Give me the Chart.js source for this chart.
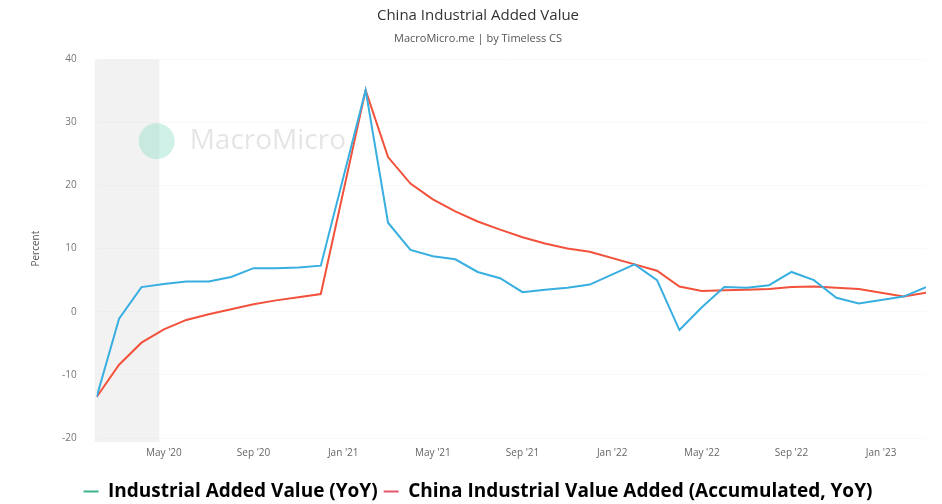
<!DOCTYPE html>
<html>
<head>
<meta charset="utf-8">
<script src="https://cdn.jsdelivr.net/npm/chart.js@4"></script>
<style>
  html, body { margin: 0; padding: 0; background: #fff; }
  #wrap { width: 942px; height: 504px; }
</style>
</head>
<body>
<div id="wrap"><canvas id="iavChart" width="942" height="504"></canvas></div>
<script>
// month index: 0 = Jan 2020 (Jan is reported together with Feb, so it is skipped)
const monthIndex = [1, 2, 3, 4, 5, 6, 7, 8, 9, 10, 11,
  13, 14, 15, 16, 17, 18, 19, 20, 21, 22, 23,
  25, 26, 27, 28, 29, 30, 31, 32, 33, 34, 35,
  37, 38];
const yoyValues = [-13.5, -1.1, 3.9, 4.4, 4.8, 4.8, 5.5, 6.9, 6.9, 7.0, 7.3,
  35.1, 14.1, 9.8, 8.8, 8.3, 6.3, 5.3, 3.1, 3.5, 3.8, 4.3,
  7.5, 5.0, -2.9, 0.7, 3.9, 3.8, 4.2, 6.3, 5.0, 2.2, 1.3,
  2.4, 3.9];
const accumValues = [-13.5, -8.4, -4.9, -2.8, -1.3, -0.4, 0.4, 1.2, 1.8, 2.3, 2.8,
  35.1, 24.5, 20.3, 17.8, 15.9, 14.3, 13.0, 11.8, 10.8, 10.0, 9.5,
  7.5, 6.5, 4.0, 3.3, 3.4, 3.5, 3.6, 3.9, 4.0, 3.8, 3.6,
  2.4, 3.0];
const tickMonths = [4, 8, 12, 16, 20, 24, 28, 32, 36];
const monthNames = ['Jan', 'Feb', 'Mar', 'Apr', 'May', 'Jun', 'Jul', 'Aug', 'Sep', 'Oct', 'Nov', 'Dec'];
const shadedSpan = [1, 3.8];
const seriesNames = ['Industrial Added Value (YoY)', 'China Industrial Value Added (Accumulated, YoY)'];

const FONT = '"Open Sans", "Noto Sans", sans-serif';

function monthLabel(i) {
  const yy = String(20 + Math.floor(i / 12)).padStart(2, '0');
  return monthNames[i % 12] + " '" + yy;
}

const backdropPlugin = {
  id: 'backdrop',
  beforeDatasetsDraw(chart) {
    const { ctx, chartArea, scales } = chart;
    const x = scales.x;
    ctx.save();
    // shaded period
    const x0 = x.getPixelForValue(shadedSpan[0]);
    const x1 = x.getPixelForValue(shadedSpan[1]);
    ctx.fillStyle = 'rgba(0,0,0,0.05)';
    ctx.fillRect(x0 - 2, chartArea.top, x1 - x0 + 2, chartArea.bottom - chartArea.top + 4);
    // watermark
    const cx = chartArea.left + 60;
    const cy = chartArea.top + 82;
    ctx.fillStyle = 'rgba(120,215,185,0.35)';
    ctx.beginPath();
    ctx.arc(cx, cy, 18, 0, Math.PI * 2);
    ctx.fill();
    ctx.fillStyle = 'rgba(150,150,150,0.25)';
    ctx.font = '28px ' + FONT;
    ctx.textBaseline = 'middle';
    ctx.fillText('MacroMicro', cx + 33, cy);
    ctx.restore();
  },
};

new Chart(document.getElementById('iavChart'), {
  type: 'line',
  data: {
    datasets: [
      {
        label: seriesNames[0],
        data: monthIndex.map((m, i) => ({ x: m, y: yoyValues[i] })),
        borderColor: '#38afe0',
        borderWidth: 2,
        pointRadius: 0,
        tension: 0,
      },
      {
        label: seriesNames[1],
        data: monthIndex.map((m, i) => ({ x: m, y: accumValues[i] })),
        borderColor: '#f2513b',
        borderWidth: 2,
        pointRadius: 0,
        tension: 0,
      },
    ],
  },
  options: {
    responsive: false,
    animation: false,
    layout: { padding: { left: 30, right: 16, bottom: -7 } },
    scales: {
      x: {
        type: 'linear',
        min: 1,
        max: 38,
        grid: { display: false },
        border: { display: false },
        afterBuildTicks(axis) {
          axis.ticks = tickMonths.map(v => ({ value: v }));
        },
        afterFit(axis) {
          axis.height += 16;
        },
        ticks: {
          autoSkip: false,
          maxRotation: 0,
          color: '#666',
          font: { family: FONT, size: 10 },
          padding: 1,
          callback: v => monthLabel(v),
        },
      },
      y: {
        min: -20,
        max: 40,
        grid: { color: 'rgba(0,0,0,0.025)', drawTicks: false },
        border: { display: false },
        ticks: {
          stepSize: 10,
          color: '#777',
          font: { family: FONT, size: 10 },
          padding: 20,
        },
        title: {
          display: true,
          text: 'Percent',
          color: '#555',
          font: { family: FONT, size: 10 },
          padding: 0,
        },
      },
    },
    plugins: {
      title: {
        display: true,
        text: 'China Industrial Added Value',
        color: '#333',
        font: { family: FONT, size: 15, weight: 'normal' },
        padding: { top: 7, bottom: 7 },
      },
      subtitle: {
        display: true,
        text: 'MacroMicro.me | by Timeless CS',
        color: '#555',
        font: { family: FONT, size: 11, weight: 'normal' },
        padding: { bottom: 14 },
      },
      legend: {
        position: 'bottom',
        labels: {
          boxWidth: 15,
          boxHeight: 2,
          padding: 6,
          color: '#222',
          font: { family: FONT, size: 19, weight: 'bold' },
          generateLabels: () => [
            { text: seriesNames[0], fillStyle: '#3db38b', strokeStyle: '#3db38b', lineWidth: 0, datasetIndex: 0 },
            { text: seriesNames[1], fillStyle: '#e5566a', strokeStyle: '#e5566a', lineWidth: 0, datasetIndex: 1 },
          ],
        },
      },
      tooltip: { enabled: false },
    },
  },
  plugins: [backdropPlugin],
});
</script>
</body>
</html>
